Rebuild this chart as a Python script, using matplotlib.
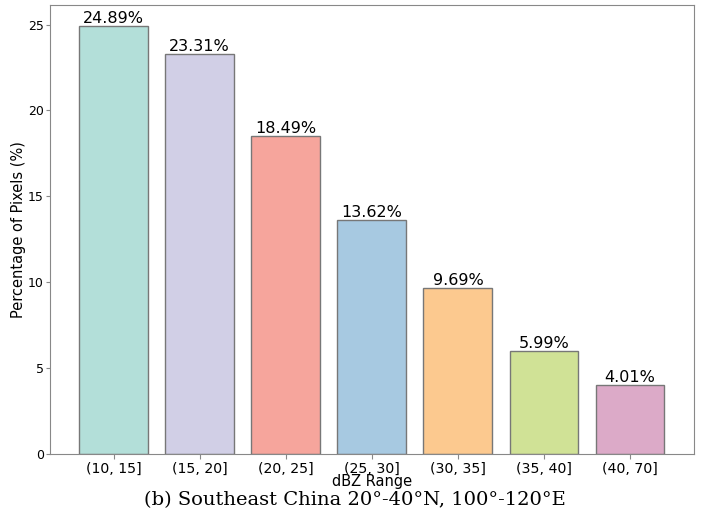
import numpy as np
import matplotlib.pyplot as plt

ranges = ["(10, 15]", "(15, 20]", "(20, 25]", "(25, 30]", "(30, 35]", "(35, 40]", "(40, 70]"]
percent = [24.89, 23.31, 18.49, 13.62, 9.69, 5.99, 4.01]
colors = ["#b3dfd9", "#d1cfe6", "#f6a59c", "#a7c9e1", "#fcc98f", "#d0e296", "#dcaac8"]

fig = plt.figure(figsize=(7.1, 5.08), dpi=100)
ax = fig.add_axes([0.0704, 0.1063, 0.9066, 0.8837])

x = np.arange(len(ranges))
bars = ax.bar(x, percent, width=0.8, color=colors, edgecolor="#777777", linewidth=1)

for b, v in zip(bars, percent):
    ax.text(b.get_x() + b.get_width() / 2, v, "%.2f%%" % v,
            ha="center", va="bottom", fontsize=11.5)

ax.set_xticks(x)
ax.set_xticklabels(ranges, fontsize=10.2)
ax.tick_params(axis="y", labelsize=9, pad=1.5, length=3)
ax.tick_params(axis="x", pad=2)
ax.set_xlabel("dBZ Range", fontsize=10.5, labelpad=-1)
ax.set_ylabel("Percentage of Pixels (%)", fontsize=10.5)
ax.yaxis.set_label_coords(-0.037, 0.5)

for s in ax.spines.values():
    s.set_color("#888888")
ax.tick_params(colors="#888888", labelcolor="black")

fig.text(0.5, 0.016, "(b) Southeast China 20°-40°N, 100°-120°E",
         ha="center", va="center", fontsize=14, family="DejaVu Serif")

fig.savefig("out.png", dpi=100)
